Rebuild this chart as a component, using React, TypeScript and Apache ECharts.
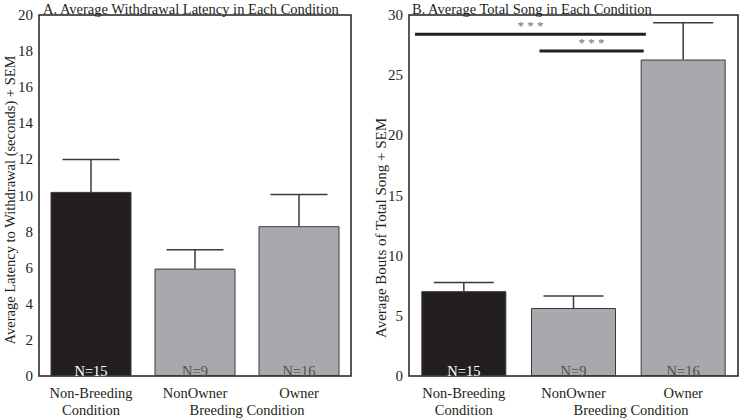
import React, { useEffect, useRef } from "react";
import * as echarts from "echarts";

const categories = ["Non-Breeding\nCondition", "NonOwner", "Owner"];
const sampleSizes = ["N=15", "N=9", "N=16"];
const latencyMeans = [10.2, 5.95, 8.3];
const latencySEM = [1.8, 1.05, 1.75];
const songMeans = [7.05, 5.65, 26.3];
const songSEM = [0.73, 1.0, 3.05];
const latencyTicks = { min: 0, max: 20, interval: 2 };
const songTicks = { min: 0, max: 30, interval: 5 };
// significance bars: start / end in category units, height in song units
const sigLines = [
  { from: -0.445, to: 1.66, y: 28.4, stars: "* * *" },
  { from: 0.69, to: 1.64, y: 27.0, stars: "* * *" },
];
const titles = ["A. Average Withdrawal Latency in Each Condition", "B. Average Total Song in Each Condition"];
const yNames = ["Average Latency to Withdrawal (seconds) + SEM", "Average Bouts of Total Song + SEM"];
const groupLabel = "Breeding Condition";

const FONT = "Liberation Serif";
const INK = "#231f20";
const GRAY = "#a7a9ac";
const EDGE = "#3a3a3a";

export default function App() {
  const ref = useRef<HTMLDivElement>(null);
  useEffect(() => {
    if (!ref.current) return;
    const chart = echarts.init(ref.current, null, { renderer: "svg" });

    const barData = (means: number[]) =>
      means.map((v, i) => ({
        value: v,
        itemStyle: { color: i === 0 ? INK : GRAY, borderColor: EDGE, borderWidth: 1 },
        label: { color: i === 0 ? "#ffffff" : "#505050" },
      }));

    const errSeries = (means: number[], sem: number[], axisIndex: number, cap: number) => ({
      type: "custom",
      xAxisIndex: axisIndex,
      yAxisIndex: axisIndex,
      data: means.map((m, i) => [i, m, m + sem[i]]),
      encode: { x: 0, y: [1, 2] },
      z: 5,
      renderItem: (params: any, api: any) => {
        const x = api.value(0);
        const p0 = api.coord([x, api.value(1)]);
        const p1 = api.coord([x, api.value(2)]);
        const st = { stroke: EDGE, lineWidth: 1.5 };
        return {
          type: "group",
          children: [
            { type: "line", shape: { x1: p0[0], y1: p0[1], x2: p1[0], y2: p1[1] }, style: st },
            { type: "line", shape: { x1: p1[0] - cap / 2, y1: p1[1], x2: p1[0] + cap / 2, y2: p1[1] }, style: st },
          ],
        };
      },
    });

    const barSeries = (means: number[], axisIndex: number, width: number) => ({
      type: "bar",
      xAxisIndex: axisIndex,
      yAxisIndex: axisIndex,
      barWidth: width,
      data: barData(means),
      label: {
        show: true,
        position: "insideBottom",
        distance: -2,
        formatter: (p: any) => sampleSizes[p.dataIndex],
        fontFamily: FONT,
        fontSize: 14.5,
      },
    });

    const xAxis = (gi: number) => ({
      type: "category",
      gridIndex: gi,
      data: categories,
      axisLine: { show: false },
      axisTick: { show: false },
      axisLabel: { interval: 0, fontFamily: FONT, fontSize: 14.5, color: INK, margin: 8, lineHeight: 17, verticalAlign: "top" },
    });
    const yAxis = (gi: number, t: { min: number; max: number; interval: number }) => ({
      type: "value",
      gridIndex: gi,
      min: t.min,
      max: t.max,
      interval: t.interval,
      axisLine: { show: false },
      axisTick: { show: false },
      splitLine: { show: false },
      axisLabel: { fontFamily: FONT, fontSize: 15, color: INK, margin: 6 },
    });

    const titleStyle = { fontFamily: FONT, fontSize: 14.5, fontWeight: "normal", color: INK };

    chart.setOption({
      animation: false,
      backgroundColor: "#ffffff",
      title: [
        { text: titles[0], left: 38, top: -4, textStyle: titleStyle },
        { text: titles[1], left: 407, top: -4, textStyle: titleStyle },
      ],
      grid: [
        { left: 39, right: 389, top: 15, bottom: 40, show: true, borderColor: INK, borderWidth: 1.5, backgroundColor: "transparent" },
        { left: 409, right: 2, top: 15, bottom: 40, show: true, borderColor: INK, borderWidth: 1.5, backgroundColor: "transparent" },
      ],
      xAxis: [xAxis(0), xAxis(1)],
      yAxis: [yAxis(0, latencyTicks), yAxis(1, songTicks)],
      series: [
        barSeries(latencyMeans, 0, 81),
        errSeries(latencyMeans, latencySEM, 0, 57),
        barSeries(songMeans, 1, 85),
        errSeries(songMeans, songSEM, 1, 60),
        {
          type: "custom",
          xAxisIndex: 1,
          yAxisIndex: 1,
          data: sigLines.map((s) => [0, s.y, s.from, s.to]),
          encode: { x: 0, y: 1 },
          z: 6,
          renderItem: (params: any, api: any) => {
            const y = api.value(1);
            const c0 = api.coord([0, y]);
            const c1 = api.coord([1, y]);
            const step = c1[0] - c0[0];
            const xs = c0[0] + api.value(2) * step;
            const xe = c0[0] + api.value(3) * step;
            return {
              type: "group",
              children: [
                { type: "line", shape: { x1: xs, y1: c0[1], x2: xe, y2: c0[1] }, style: { stroke: INK, lineWidth: 3 } },
                {
                  type: "text",
                  x: (xs + xe) / 2,
                  y: c0[1] - 2,
                  style: {
                    text: sigLines[params.dataIndex].stars,
                    textAlign: "center",
                    textVerticalAlign: "bottom",
                    fill: "#6e6e6e",
                    fontSize: 13,
                    fontFamily: FONT,
                  },
                },
              ],
            };
          },
        },
      ],
      graphic: [
        { type: "text", x: 10, y: 200, rotation: Math.PI / 2, style: { text: yNames[0], textAlign: "center", textVerticalAlign: "middle", fontSize: 14.5, fontFamily: FONT, fill: INK } },
        { type: "text", x: 381, y: 228, rotation: Math.PI / 2, style: { text: yNames[1], textAlign: "center", textVerticalAlign: "middle", fontSize: 15, fontFamily: FONT, fill: INK } },
        { type: "text", x: 247, y: 410, style: { text: groupLabel, textAlign: "center", textVerticalAlign: "middle", fontSize: 14.5, fontFamily: FONT, fill: INK } },
        { type: "text", x: 631, y: 410, style: { text: groupLabel, textAlign: "center", textVerticalAlign: "middle", fontSize: 14.5, fontFamily: FONT, fill: INK } },
      ],
    });
    return () => chart.dispose();
  }, []);
  return <div ref={ref} style={{ position: "fixed", left: 0, top: 0, width: 740, height: 418 }} />;
}
